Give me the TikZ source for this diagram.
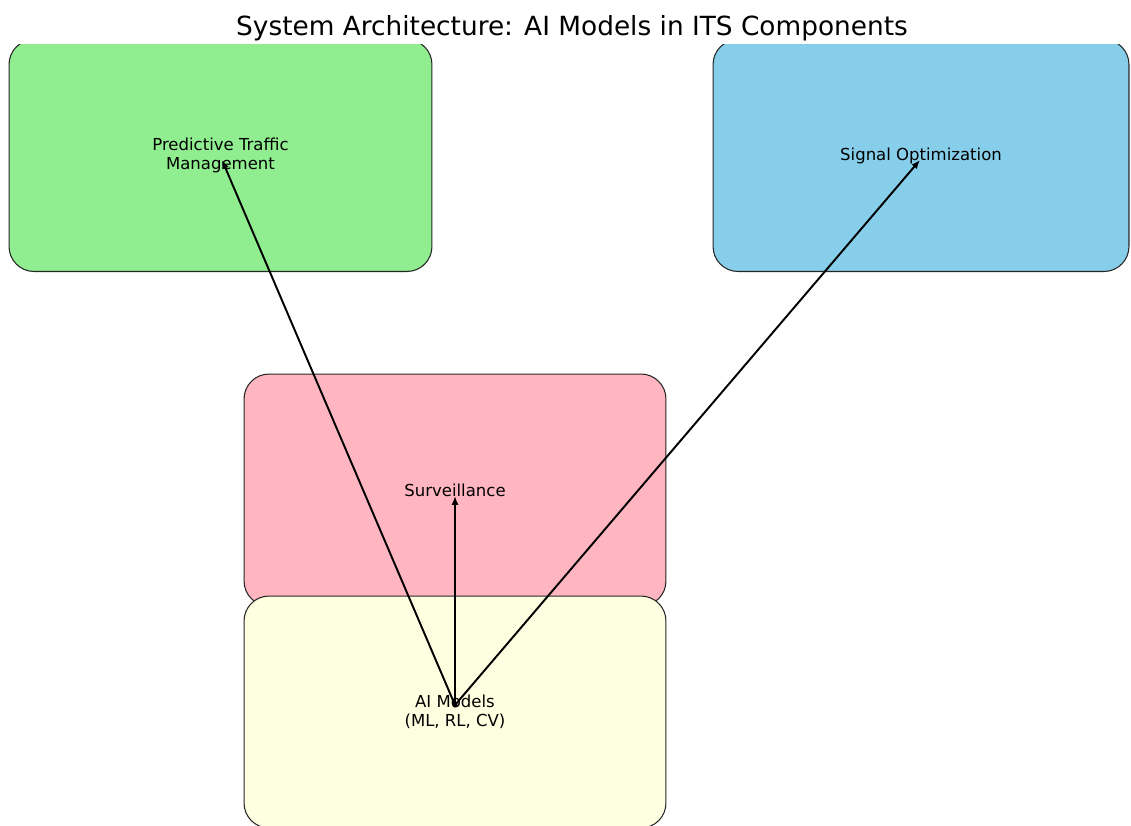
\documentclass[tikz,border=0pt]{standalone}
\usepackage{fontspec}
\setmainfont{DejaVu Sans}
\usetikzlibrary{arrows.meta}
\definecolor{cgreen}{HTML}{90EE90}
\definecolor{cblue}{HTML}{87CEEB}
\definecolor{cpink}{HTML}{FFB6C1}
\definecolor{cyellow}{HTML}{FEFEE0}
\tikzset{
  box/.style={draw=black!85, line width=0.6pt, rounded corners=0.5cm, minimum height=4.64cm, align=center, font=\fontsize{9.4}{11}\selectfont, inner sep=0pt},
  arr/.style={-{Latex[length=5pt,width=4pt]}, line width=1.1pt, black}
}
\begin{document}
\begin{tikzpicture}[x=0.02cm, y=-0.02cm]
\useasboundingbox (0,0) rectangle (1131,825);
\node[font=\fontsize{15}{17}\selectfont] (title) at (572,28) {System Architecture: AI Models in ITS Components};
\begin{scope}
\clip (0,44) rectangle (1131,825);
\node[box, fill=cgreen, minimum width=8.46cm] (pred) at (220.5,155.5) {Predictive Traffic\\Management};
\node[box, fill=cblue, minimum width=8.32cm] (sig) at (921,155.5) {Signal Optimization};
\node[box, fill=cpink, minimum width=8.44cm] (surv) at (455,490) {Surveillance};
\node[box, fill=cyellow, minimum width=8.44cm] (ai) at (455,712) {AI Models\\(ML, RL, CV)};
\end{scope}
\coordinate (aiP) at (455,705);
\coordinate (predP) at (222,160);
\coordinate (sigP) at (920,160);
\coordinate (survP) at (455,496);
\draw[arr] (aiP) -- (predP);
\draw[arr] (aiP) -- (sigP);
\draw[arr] (aiP) -- (survP);
\fill (aiP) circle (2.5);
\end{tikzpicture}
\end{document}
